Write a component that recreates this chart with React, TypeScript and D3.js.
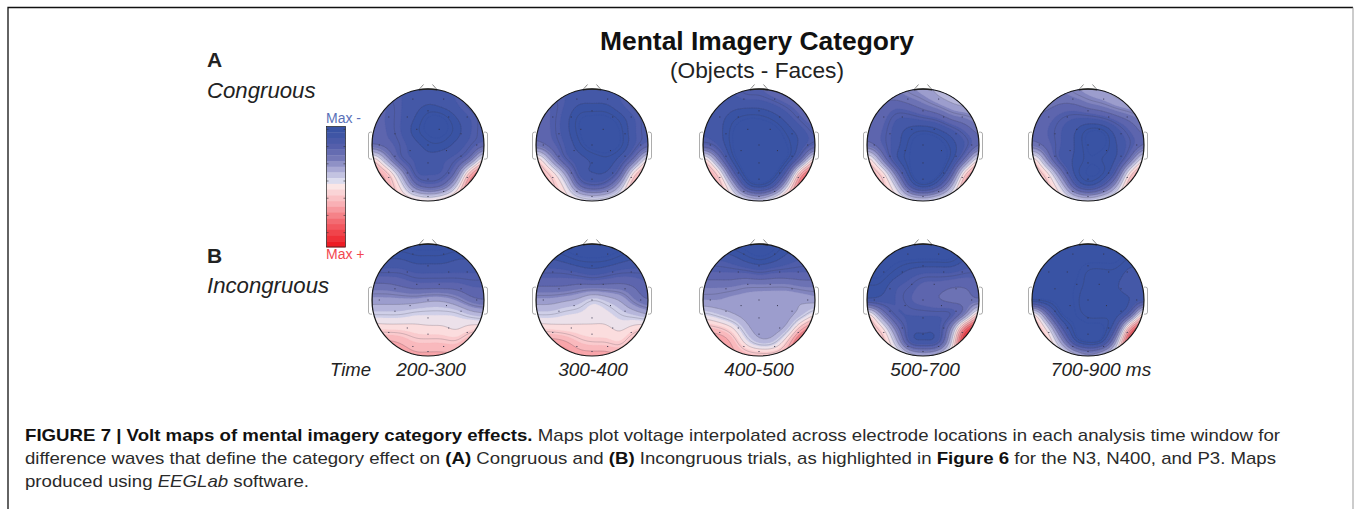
import React, { useMemo } from "react";
import * as d3 from "d3";

const WIDTH = 1354;
const HEIGHT = 509;

// Grid axis for all maps: rows top→bottom, columns left→right, values in colour-bar units (-10 = Max -, +10 = Max +)
const A1 = [
  [-8, -8, -8, -8, -8, -8, -8, -8, -8],
  [-7, -7, -8, -8.5, -9, -8.5, -8, -7, -7],
  [-7, -7, -8, -9, -10.2, -10.2, -9, -8, -7],
  [-6.5, -7, -8, -9.5, -10.2, -10.2, -9.5, -8, -7],
  [-6, -6.5, -7.5, -8.5, -9.5, -9.5, -8.5, -7.5, -6.5],
  [2, -3.5, -7.5, -8, -8.5, -8, -7.5, -5.5, 1.5],
  [4, 2.5, -3, -8, -8, -8, -5.5, 3.5, 7],
  [3, 3, 0, -5, -6.5, -5.5, -1, 6.5, 8],
  [2, 2, 1.5, 1.5, 1, 2, 3, 5, 6],
];
const A2 = [
  [-8, -8, -8, -8, -8, -8, -8, -8, -8],
  [-7, -7, -8, -9, -9, -9, -8, -7, -7],
  [-6.5, -7, -8.5, -10, -10.2, -10.2, -9.5, -8, -7],
  [-6, -7, -8.5, -10, -10.5, -10.5, -10, -8, -7],
  [-5.5, -6.5, -8, -9.5, -10.5, -10.5, -10, -8, -6.5],
  [2, -3.5, -7.5, -8.5, -9, -9.5, -8.5, -5.5, 1],
  [3, 1.5, -3, -8.5, -9, -9, -6.5, 1.5, 4.5],
  [2, 2, 0, -5.5, -7, -6, -2, 4, 5],
  [1, 1, 1, 0.5, 0, 0.5, 1, 3, 3],
];
const A3 = [
  [-8, -8, -8, -7, -7, -6, -5, -5, -5],
  [-8, -8, -8.5, -8.5, -8.5, -8, -7, -6, -5],
  [-8, -8.5, -9.5, -10, -10, -9.5, -8.5, -7, -6],
  [-8, -8.5, -10, -10.5, -10.5, -10.5, -9.5, -8.5, -7],
  [-7, -8, -10, -10.5, -10.5, -10.5, -10, -8.5, -7],
  [2, -4.5, -9.5, -10.5, -10.5, -10.5, -10, -6, 2.5],
  [4, 1.5, -6.5, -10.5, -10.5, -10.5, -6.5, 4.5, 8],
  [3, 3, -1.5, -8, -9.5, -7.5, -0.5, 7.5, 9],
  [1, 1, 1, 0, -1, 1.5, 4, 6, 6],
];
const A4 = [
  [-6, -5.5, -5, -4, -3.5, -2.5, -2, -2, -2],
  [-6, -6, -6.5, -6, -5, -4, -3, -2.5, -2.5],
  [-6, -6.5, -8, -8, -7.5, -7, -5.5, -5, -4],
  [-6, -7, -8.5, -9.5, -10, -9.5, -8.5, -7, -5.5],
  [-5.5, -7, -8.5, -10, -10.5, -10.5, -9.5, -8, -6],
  [2, -4.5, -9, -10, -10.5, -10.5, -9.5, -5.5, 1],
  [3, 1.5, -5, -10, -10.5, -10.5, -7, 2, 6],
  [2, 2, -1, -7.5, -9.5, -7.5, -2.5, 4.5, 7],
  [1, 1, 1, 0, -0.5, 0.5, 1.5, 3, 3],
];
const A5 = [
  [-5.5, -5, -5, -4, -3.5, -3, -2.5, -2, -2],
  [-5.5, -5.5, -6, -6, -5, -4.5, -3.5, -3, -2.5],
  [-6, -6.5, -7.5, -8, -8, -7.5, -6.5, -5.5, -4.5],
  [-6, -7, -8, -9, -10.2, -10.2, -8.5, -7, -5.5],
  [-5.5, -6.5, -8, -9, -10.2, -10.2, -9, -7.5, -6],
  [2, -4.5, -8.5, -9, -10, -9.5, -9, -5.5, 1],
  [3, 1, -5, -9.5, -10, -10, -7, 1.5, 5],
  [2, 2, -1, -7, -9, -7, -2.5, 4, 5.5],
  [1, 1, 1, 0, -0.5, 0.5, 1.5, 3, 3],
];
const B1 = [
  [-10.2, -10.2, -10.2, -10.2, -10.2, -10.2, -10.2, -10.2, -10.2],
  [-9, -9, -9, -9.5, -9.5, -9.5, -9, -9, -9],
  [-7.5, -7.5, -7.5, -8, -8, -8, -8, -8, -8],
  [-5.5, -5.5, -6, -6.5, -6.5, -6.5, -6.5, -7, -7],
  [-3.5, -3.5, -3.5, -3.5, -3, -3, -4, -5.5, -6],
  [-1.5, -1.5, -1.5, -1, -1, -1, -1, -2, -2.5],
  [1, 0.8, 0.8, 0.5, 0.3, 0.3, -0.3, 0.8, 1],
  [3, 3.5, 3, 2, 2, 2, 1.8, 3.5, 4.5],
  [4, 4, 4, 3.5, 3.5, 3.5, 3.5, 4.5, 4.5],
];
const B2 = [
  [-10.2, -10.2, -10.2, -10.2, -10.2, -10.2, -10.2, -10.2, -10.2],
  [-9, -9, -9.5, -10, -10, -10, -9.5, -9, -9],
  [-7.5, -7.5, -7.5, -8, -8.5, -8, -7.5, -7.5, -7.5],
  [-6, -6, -6, -5.5, -5.5, -5.5, -5.5, -6, -7],
  [-3.5, -3.5, -3, -2.5, -1, -2, -3, -5, -6],
  [-1.5, -1.5, -1, -0.8, -0.5, -0.6, -1.5, -2, -3],
  [1, 0.8, 0.5, 0.4, 0.3, 0.3, -0.3, 0.8, 1.5],
  [3.5, 4, 3.5, 2, 1.5, 1.5, 1, 3.5, 5],
  [4, 5, 5, 4, 4, 4, 3.5, 5, 5.5],
];
const B3 = [
  [-9, -9.5, -10.2, -10.2, -10.2, -10.2, -9.5, -9, -9],
  [-8, -8, -8.5, -9.5, -10, -9.5, -8.5, -8, -8],
  [-7, -7, -7, -7, -7.5, -7, -7, -7, -7],
  [-5, -5, -5, -4.5, -4.5, -4.5, -4.5, -5, -5],
  [-4, -4, -3.5, -3.5, -3.2, -3, -3, -3, -3.5],
  [-1, -2, -3, -3.5, -3.5, -3.5, -3.5, -2.5, 0],
  [2.5, 2, 0.5, -2.5, -3.7, -3.7, -2.5, 3, 6],
  [4, 4.5, 3, -0.5, -2.5, -2, 2, 8.5, 10],
  [3, 3, 3.5, 3, 3, 3, 4, 7, 7],
];
const B4 = [
  [-10.2, -10.2, -10.2, -10.2, -10.2, -10.2, -10.2, -10.2, -10.2],
  [-10.2, -10.2, -10.2, -10.2, -10.2, -10.2, -10.2, -9, -9],
  [-10.2, -10.2, -9.5, -8.5, -8, -8, -8, -7.5, -7.5],
  [-9.5, -9.5, -8, -7.5, -6.5, -6.5, -6, -6, -6.5],
  [-9, -8.5, -8, -7, -6.5, -6, -5.5, -5.5, -6],
  [2, -4.5, -8, -8, -8, -8, -8, -5, 3],
  [3, 1, -5, -8.5, -8.5, -8.5, -4, 7, 10],
  [2.5, 2.5, -2, -8.5, -9, -8.5, -1.5, 11, 11],
  [1, 1, 1, -1, -2, -1, 1.5, 7, 9],
];
const B5 = [
  [-10.2, -10.2, -10.2, -10.2, -10.2, -10.2, -10.2, -10.2, -10.2],
  [-10.2, -10.2, -10.2, -10.2, -10.2, -10.2, -10.2, -9.6, -9.6],
  [-10.2, -10.2, -10.2, -10.2, -9.5, -9.5, -9.5, -8.5, -9],
  [-10.2, -10.2, -10.2, -10, -9.5, -9.5, -9, -8.5, -8.5],
  [-10.2, -10.2, -10.2, -10, -9, -9, -9.5, -9, -8.5],
  [2, -5.5, -10.2, -10, -9.5, -9.5, -9.5, -7, 3],
  [3, 0, -7, -10.2, -10.2, -10.2, -7.5, 5, 9],
  [2, 2, -3, -9, -10.2, -9.5, -2.5, 10, 11],
  [1, 1, 1, -1, -3, -1, 1.5, 7, 8],
];

const rowA = [A1, A2, A3, A4, A5];
const rowB = [B1, B2, B3, B4, B5];

const mapCentersX = [428, 592, 759, 923, 1088];
const rowCentersY = [145, 300];
const timeLabels = ["200-300", "300-400", "400-500", "500-700", "700-900 ms"];
const timeLabelX = [431, 593, 759, 925, 1101];

// Electrode positions, normalised to head radius
const electrodeX = [-0.27, 0.28, 0, -0.37, 0.37, -0.7, 0.7, -0.2, 0.2, -0.59, 0.59, 0, -0.87, 0.87, -0.32, 0.33, -0.59, 0.59, 0, -0.37, 0.37, -0.7, 0.7, 0, -0.27, 0.28, 0];
const electrodeY = [-0.82, -0.82, -0.61, -0.5, -0.5, -0.5, -0.5, -0.28, -0.28, -0.2, -0.2, 0, 0, 0, 0.1, 0.1, 0.2, 0.2, 0.32, 0.5, 0.5, 0.58, 0.58, 0.61, 0.83, 0.83, 0.92];

const colorStops = [-9.5, -7, -5, -3, -1, 0, 3, 6, 10];
const colorValues = ["#3953a4", "#555fab", "#7478b7", "#a9a9d4", "#dcdcee", "#fbe6e6", "#f9b0b5", "#f36b72", "#ed1c24"];
const bandEdges = d3.range(-11, 11.01, 1);
const lineLevels = [-9.7, -9, -7.5, -6, -4.5, -3, -1.5, 0, 1.5, 3, 4.5, 6, 7.5, 9];
const colorbarTicks = [-10, -7, -4, -1, 2, 5, 8];

const color = d3.scaleLinear<string>().domain(colorStops).range(colorValues).clamp(true);

const R = 56;
const UP = 8; // render cells per data cell

function catmull(p0: number, p1: number, p2: number, p3: number, t: number) {
  return 0.5 * (2 * p1 + (p2 - p0) * t + (2 * p0 - 5 * p1 + 4 * p2 - p3) * t * t + (3 * p1 - p0 - 3 * p2 + p3) * t * t * t);
}

function upsample(grid: number[][]) {
  const n = grid.length;
  const m = (n - 1) * UP + 1;
  const out = new Float64Array(m * m);
  const g = (r: number, c: number) => grid[Math.max(0, Math.min(n - 1, r))][Math.max(0, Math.min(n - 1, c))];
  for (let j = 0; j < m; j++) {
    const fy = j / UP;
    const r = Math.min(n - 2, Math.floor(fy));
    const ty = fy - r;
    for (let i = 0; i < m; i++) {
      const fx = i / UP;
      const c = Math.min(n - 2, Math.floor(fx));
      const tx = fx - c;
      const col = [-1, 0, 1, 2].map((d) => catmull(g(r + d, c - 1), g(r + d, c), g(r + d, c + 1), g(r + d, c + 2), tx));
      out[j * m + i] = catmull(col[0], col[1], col[2], col[3], ty);
    }
  }
  d3.blur2({ data: out, width: m, height: m }, 2);
  return { values: out, size: m };
}

function TopoMap({ grid, cx, cy, id }: { grid: number[][]; cx: number; cy: number; id: string }) {
  const { bands, lines, scale } = useMemo(() => {
    const { values, size } = upsample(grid);
    const gen = d3.contours().size([size, size]).smooth(true);
    const path = d3.geoPath();
    const bands = bandEdges.slice(0, -1).map((lo) => ({
      d: path(gen.contour(values as unknown as number[], lo)) || "",
      fill: color(lo + 0.5),
    }));
    const lines = lineLevels.map((v) => path(gen.contour(values as unknown as number[], v)) || "");
    return { bands, lines, scale: (2 * R * 1.0) / (size - 1) };
  }, [grid]);
  const xS = d3.scaleLinear().domain([-1, 1]).range([cx - R, cx + R]);
  const yS = d3.scaleLinear().domain([-1, 1]).range([cy - R, cy + R]);
  return (
    <g>
      <clipPath id={id}>
        <circle cx={cx} cy={cy} r={R} />
      </clipPath>
      {/* nose and ears */}
      <g fill="none" stroke="#555" strokeWidth={0.7}>
        <path d={`M${xS(-0.165)},${yS(-0.985)}L${xS(-0.08)},${yS(-1.08)}`} />
        <path d={`M${xS(0.165)},${yS(-0.985)}L${xS(0.08)},${yS(-1.08)}`} />
      </g>
      <g fill="none" stroke="#8a8a8a" strokeWidth={0.7}>
        <path d={`M${xS(-1)},${yS(-0.23)}h-1.5q-2,0 -2,2v23q0,2 2,2h1.5`} />
        <path d={`M${xS(1)},${yS(-0.23)}h1.5q2,0 2,2v23q0,2 -2,2h-1.5`} />
      </g>
      <g clipPath={`url(#${id})`}>
        <rect x={cx - R} y={cy - R} width={2 * R} height={2 * R} fill={color(-10.5)} />
        <g transform={`translate(${cx - R},${cy - R}) scale(${scale})`}>
          {bands.map((b, i) => (
            <path key={i} d={b.d} fill={b.fill} stroke={b.fill} strokeWidth={0.2 / scale} />
          ))}
          {lines.map((d, i) => (
            <path key={i} d={d} fill="none" stroke="#3c3c46" strokeOpacity={0.42} strokeWidth={0.5 / scale} />
          ))}
        </g>
      </g>
      {electrodeX.map((ex, i) => (
        <rect key={i} x={xS(ex) - 0.5} y={yS(electrodeY[i]) - 0.5} width={1} height={1} fill="#33334a" />
      ))}
      <path d={`M${xS(-0.16)},${yS(-0.987)}A${R},${R} 0 0 1 ${xS(0.16)},${yS(-0.987)}`} fill="none" stroke="#333" strokeWidth={1.6} />
      <circle cx={cx} cy={cy} r={R} fill="none" stroke="#1a1a1a" strokeWidth={1.2} />
    </g>
  );
}

function Colorbar() {
  const x0 = 326.5;
  const w = 19;
  const y = d3.scaleLinear().domain([-10.5, 10.5]).range([126.5, 247]);
  const bands = d3.range(-10.5, 10.5, 1);
  return (
    <g>
      {bands.map((v) => (
        <rect key={v} x={x0} y={y(v)} width={w} height={y(v + 1) - y(v) + 0.4} fill={color(v + 0.5)} />
      ))}
      {colorbarTicks.map((t) => (
        <g key={t} stroke="#333" strokeWidth={0.6}>
          <line x1={x0} x2={x0 + 2} y1={y(t)} y2={y(t)} />
          <line x1={x0 + w - 2} x2={x0 + w} y1={y(t)} y2={y(t)} />
        </g>
      ))}
      <rect x={x0} y={126.5} width={w} height={120.5} fill="none" stroke="#222" strokeWidth={0.7} />
    </g>
  );
}

const SANS = "'Liberation Sans', Arial, sans-serif";
const captionLine1 = 1255;
const captionLine2 = 1251;
const captionLine3 = 284;

export default function App() {
  return (
    <svg
      width={WIDTH}
      height={HEIGHT}
      viewBox={`0 0 ${WIDTH} ${HEIGHT}`}
      style={{ position: "fixed", left: 0, top: 0, background: "#fff" }}
      fontFamily={SANS}
    >
      <path d="M8,509V7.5H1353" fill="none" stroke="#111" strokeWidth={1.3} />
      <path d="M1353,7.5V509" fill="none" stroke="#999" strokeWidth={1} />

      <text x={757} y={50} textAnchor="middle" fontSize={26.4} fontWeight={700} fill="#111">Mental Imagery Category</text>
      <text x={757} y={78} textAnchor="middle" fontSize={22.7} fill="#222">(Objects - Faces)</text>

      <text x={207} y={67} fontSize={21} fontWeight={700} fill="#222">A</text>
      <text x={207} y={98} fontSize={22.2} fontStyle="italic" fill="#222">Congruous</text>
      <text x={207} y={263} fontSize={21} fontWeight={700} fill="#222">B</text>
      <text x={207} y={293} fontSize={22.2} fontStyle="italic" fill="#222">Incongruous</text>

      <text x={326} y={123} fontSize={14} fill="#5a70b8">Max -</text>
      <text x={326} y={259} fontSize={14} fill="#f2474f">Max +</text>
      <Colorbar />

      {rowA.map((g, i) => (
        <TopoMap key={`a${i}`} grid={g} cx={mapCentersX[i]} cy={rowCentersY[0]} id={`clip-a${i}`} />
      ))}
      {rowB.map((g, i) => (
        <TopoMap key={`b${i}`} grid={g} cx={mapCentersX[i]} cy={rowCentersY[1]} id={`clip-b${i}`} />
      ))}

      <text x={330} y={376} fontSize={18.5} fontStyle="italic" fill="#222">Time</text>
      {timeLabels.map((t, i) => (
        <text key={t} x={timeLabelX[i]} y={376} textAnchor="middle" fontSize={19} fontStyle="italic" fill="#222">{t}</text>
      ))}

      <g fontSize={17} fill="#2a2a2a">
        <text x={25} y={441} textLength={captionLine1} lengthAdjust="spacingAndGlyphs">
          <tspan fontWeight={700} fill="#111">FIGURE 7 | Volt maps of mental imagery category effects.</tspan> Maps plot voltage interpolated across electrode locations in each analysis time window for
        </text>
        <text x={25} y={464} textLength={captionLine2} lengthAdjust="spacingAndGlyphs">
          difference waves that define the category effect on <tspan fontWeight={700} fill="#111">(A)</tspan> Congruous and <tspan fontWeight={700} fill="#111">(B)</tspan> Incongruous trials, as highlighted in <tspan fontWeight={700} fill="#111">Figure 6</tspan> for the N3, N400, and P3. Maps
        </text>
        <text x={25} y={487} textLength={captionLine3} lengthAdjust="spacingAndGlyphs">
          produced using <tspan fontStyle="italic">EEGLab</tspan> software.
        </text>
      </g>
    </svg>
  );
}
